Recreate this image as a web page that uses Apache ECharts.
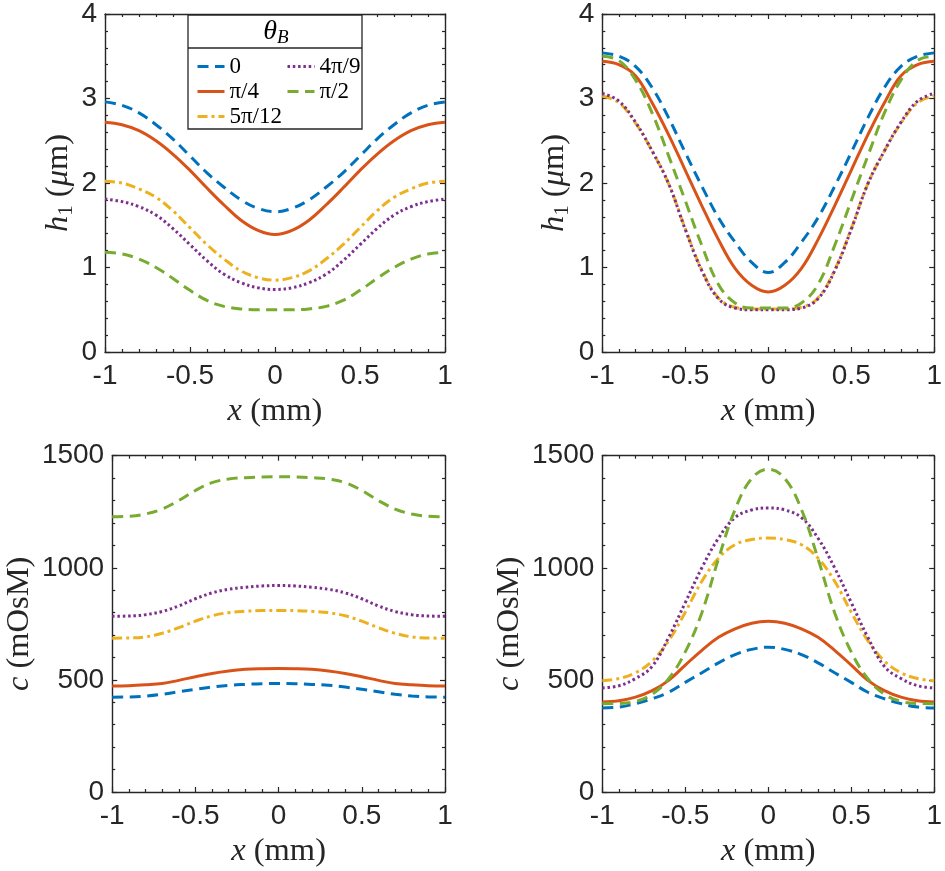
<!DOCTYPE html>
<html>
<head>
<meta charset="utf-8">
<script src="https://cdn.jsdelivr.net/npm/echarts@6/dist/echarts.min.js"></script>
<style>
html,body{margin:0;padding:0;background:#fff;}
#chart{width:945px;height:871px;}
</style>
</head>
<body>
<div id="chart"></div>
<script>
// ---- data ----
const xs = [-1,-0.9,-0.8,-0.7,-0.6,-0.5,-0.4,-0.3,-0.2,-0.1,0,0.1,0.2,0.3,0.4,0.5,0.6,0.7,0.8,0.9,1];
const seriesNames = ['0','π/4','5π/12','4π/9','π/2'];
const seriesColors = ['#0072BD','#D95319','#EDB120','#7E2F8E','#77AC30'];
const xTicks = [-1,-0.5,0,0.5,1];
const hTicks = [0,1,2,3,4];
const cTicks = [0,500,1000,1500];

// top-left: h1 (um)
const h1L_0     = [2.96,2.92,2.83,2.69,2.52,2.32,2.12,1.95,1.80,1.70,1.66,1.70,1.80,1.95,2.12,2.32,2.52,2.69,2.83,2.92,2.96];
const h1L_pi4   = [2.72,2.69,2.62,2.50,2.34,2.15,1.94,1.74,1.56,1.44,1.39,1.44,1.56,1.74,1.94,2.15,2.34,2.50,2.62,2.69,2.72];
const h1L_5pi12 = [2.02,2.00,1.93,1.83,1.67,1.47,1.27,1.10,0.96,0.88,0.85,0.88,0.96,1.10,1.27,1.47,1.67,1.83,1.93,2.00,2.02];
const h1L_4pi9  = [1.81,1.78,1.72,1.62,1.46,1.27,1.08,0.92,0.82,0.76,0.74,0.76,0.82,0.92,1.08,1.27,1.46,1.62,1.72,1.78,1.81];
const h1L_pi2   = [1.18,1.16,1.10,1.00,0.87,0.73,0.61,0.54,0.51,0.50,0.50,0.50,0.51,0.54,0.61,0.73,0.87,1.00,1.10,1.16,1.18];

// top-right: h1 (um)
const h1R_0     = [3.54,3.50,3.38,3.13,2.77,2.36,1.96,1.59,1.30,1.06,0.94,1.06,1.30,1.59,1.96,2.36,2.77,3.13,3.38,3.50,3.54];
const h1R_pi4   = [3.44,3.40,3.27,2.95,2.57,2.15,1.73,1.33,0.99,0.79,0.71,0.79,0.99,1.33,1.73,2.15,2.57,2.95,3.27,3.40,3.44];
const h1R_5pi12 = [3.03,2.95,2.71,2.38,1.99,1.46,0.97,0.64,0.53,0.51,0.51,0.51,0.53,0.64,0.97,1.46,1.99,2.38,2.71,2.95,3.03];
const h1R_4pi9  = [3.06,2.97,2.72,2.38,1.99,1.45,0.96,0.63,0.52,0.50,0.50,0.50,0.52,0.63,0.96,1.45,1.99,2.38,2.72,2.97,3.06];
const h1R_pi2   = [3.50,3.45,3.22,2.83,2.32,1.79,1.26,0.80,0.58,0.52,0.52,0.52,0.58,0.80,1.26,1.79,2.32,2.83,3.22,3.45,3.50];

// bottom-left: c (mOsM)
const cL_0     = [423,424,428,436,447,458,468,476,480,483,484,483,480,476,468,458,447,436,428,424,423];
const cL_pi4   = [473,474,478,484,498,514,529,540,547,550,551,550,547,540,529,514,498,484,478,474,473];
const cL_5pi12 = [686,687,692,708,733,762,786,800,806,809,810,809,806,800,786,762,733,708,692,687,686];
const cL_4pi9  = [784,785,791,805,830,862,888,904,913,919,921,919,913,904,888,862,830,805,791,785,784];
const cL_pi2   = [1228,1230,1240,1262,1300,1345,1380,1396,1402,1405,1406,1405,1402,1396,1380,1345,1300,1262,1240,1230,1228];

// bottom-right: c (mOsM)
const cR_0     = [375,379,394,416,445,489,532,576,613,636,646,636,613,576,532,489,445,416,394,379,375];
const cR_pi4   = [401,407,423,452,498,566,632,690,728,753,762,753,728,690,632,566,498,452,423,407,401];
const cR_5pi12 = [496,506,532,584,675,802,940,1043,1103,1126,1133,1126,1103,1043,940,802,675,584,532,506,496];
const cR_4pi9  = [464,474,506,560,690,845,1000,1132,1224,1258,1267,1258,1224,1132,1000,845,690,560,506,474,464];
const cR_pi2   = [394,395,404,436,505,625,800,1040,1260,1398,1440,1398,1260,1040,800,625,505,436,404,395,394];

const panels = [
  [h1L_0, h1L_pi4, h1L_5pi12, h1L_4pi9, h1L_pi2],
  [h1R_0, h1R_pi4, h1R_5pi12, h1R_4pi9, h1R_pi2],
  [cL_0, cL_pi4, cL_5pi12, cL_4pi9, cL_pi2],
  [cR_0, cR_pi4, cR_5pi12, cR_4pi9, cR_pi2]
];

// ---- styling ----
const AX = '#262626';
const SANS = '"Liberation Sans", Arial, Helvetica, sans-serif';
const SERIF = '"Liberation Serif", "DejaVu Serif", serif';
const dashes = [[11,6.5], 'solid', [10,4,3,4], [2.5,2.8], [11,6.5]];

const grids = [
  {left:105, top:9.5, width:340, height:342.5},
  {left:602.3, top:9.5, width:340.4, height:342.5},
  {left:105, top:455.7, width:340, height:342.6},
  {left:602.3, top:455.7, width:340.4, height:342.6}
];
const yCfg = [
  {ticks:hTicks, name:'{i|h}{s|1} ({i|μ}m)', gap:28},
  {ticks:hTicks, name:'{i|h}{s|1} ({i|μ}m)', gap:29},
  {ticks:cTicks, name:'{i|c} (mOsM)', gap:74},
  {ticks:cTicks, name:'{i|c} (mOsM)', gap:74}
];

const NS = 32.5;
const nameStyle = {
  fontFamily: SERIF, fontSize: NS, color: AX, lineHeight: 37,
  rich: {
    i: {fontFamily: SERIF, fontStyle: 'italic', fontSize: NS, color: AX, lineHeight: 37},
    s: {fontFamily: SERIF, fontSize: 21, color: AX, lineHeight: 19, verticalAlign: 'bottom'}
  }
};
const tickLine = {color: AX, width: 1.2};
const fmt = v => String(v);

const xAxes = [], yAxes = [], series = [];
grids.forEach((g, gi) => {
  const base = {
    type: 'value', gridIndex: gi, min: xTicks[0], max: xTicks[xTicks.length - 1],
    interval: xTicks[1] - xTicks[0],
    axisLine: {show: true, onZero: false, lineStyle: {color: AX, width: 1.4}},
    axisTick: {show: true, inside: true, length: 5, lineStyle: tickLine},
    minorTick: {show: true, splitNumber: 5, length: 3, lineStyle: tickLine},
    splitLine: {show: false}, minorSplitLine: {show: false}
  };
  xAxes.push(Object.assign({}, base, {
    position: 'bottom',
    axisLabel: {show: true, margin: 10, fontSize: 28, color: AX, fontFamily: SANS, formatter: fmt},
    name: '{i|x} (mm)', nameLocation: 'middle', nameGap: 41, nameTextStyle: nameStyle
  }));
  xAxes.push(Object.assign({}, base, {position: 'top', axisLabel: {show: false}}));
  const yc = yCfg[gi];
  const ybase = {
    type: 'value', gridIndex: gi, min: yc.ticks[0], max: yc.ticks[yc.ticks.length - 1],
    interval: yc.ticks[1] - yc.ticks[0],
    axisLine: {show: true, onZero: false, lineStyle: {color: AX, width: 1.4}},
    axisTick: {show: true, inside: true, length: 5, lineStyle: tickLine},
    minorTick: {show: true, splitNumber: 5, length: 3, lineStyle: tickLine},
    splitLine: {show: false}, minorSplitLine: {show: false}
  };
  yAxes.push(Object.assign({}, ybase, {
    position: 'left',
    axisLabel: {show: true, margin: 8, fontSize: 28, color: AX, fontFamily: SANS, formatter: fmt},
    name: yc.name, nameLocation: 'middle', nameGap: yc.gap, nameTextStyle: nameStyle
  }));
  yAxes.push(Object.assign({}, ybase, {position: 'right', axisLabel: {show: false}}));

  panels[gi].forEach((vals, si) => {
    series.push({
      type: 'line', name: seriesNames[si],
      xAxisIndex: 2 * gi, yAxisIndex: 2 * gi,
      data: xs.map((x, i) => [x, vals[i]]),
      symbol: 'none', showSymbol: false, smooth: 0.4,
      lineStyle: {color: seriesColors[si], width: 3, type: dashes[si], cap: 'butt'},
      itemStyle: {color: seriesColors[si]},
      z: 2 + si
    });
  });
});

const legendBase = {
  orient: 'vertical', itemWidth: 27, itemHeight: 12, itemGap: 2,
  textStyle: {fontFamily: SERIF, fontSize: 23, color: '#000', lineHeight: 22.5},
  lineStyle: {width: 3},
  itemStyle: {opacity: 0, borderWidth: 0, color: 'rgba(0,0,0,0)'},
  selectedMode: false
};

const option = {
  animation: false,
  backgroundColor: '#fff',
  grid: grids.map(g => Object.assign({containLabel: false, show: false}, g)),
  xAxis: xAxes,
  yAxis: yAxes,
  series: series,
  legend: [
    Object.assign({}, legendBase, {left: 191, top: 50, data: ['0', 'π/4', '5π/12']}),
    Object.assign({}, legendBase, {left: 281, top: 50, data: ['4π/9', 'π/2']})
  ],
  graphic: [
    {type: 'rect', z: 3, shape: {x: 188, y: 15, width: 174, height: 114},
     style: {fill: '#fff', stroke: AX, lineWidth: 1.3}},
    {type: 'line', z: 3, shape: {x1: 188, y1: 48, x2: 362, y2: 48},
     style: {stroke: AX, lineWidth: 1.3}},
    {type: 'text', z: 5, x: 276, y: 32,
     style: {
       text: '{t|θ}{b|B}', align: 'center', verticalAlign: 'middle',
       textAlign: 'center', textVerticalAlign: 'middle',
       rich: {
         t: {fontFamily: SERIF, fontStyle: 'italic', fontSize: 28, fill: '#000', lineHeight: 30},
         b: {fontFamily: SERIF, fontStyle: 'italic', fontSize: 19, fill: '#000', lineHeight: 17, verticalAlign: 'bottom'}
       }
     }}
  ]
};

const chart = echarts.init(document.getElementById('chart'), null, {renderer: 'canvas'});
chart.setOption(option);
</script>
</body>
</html>
